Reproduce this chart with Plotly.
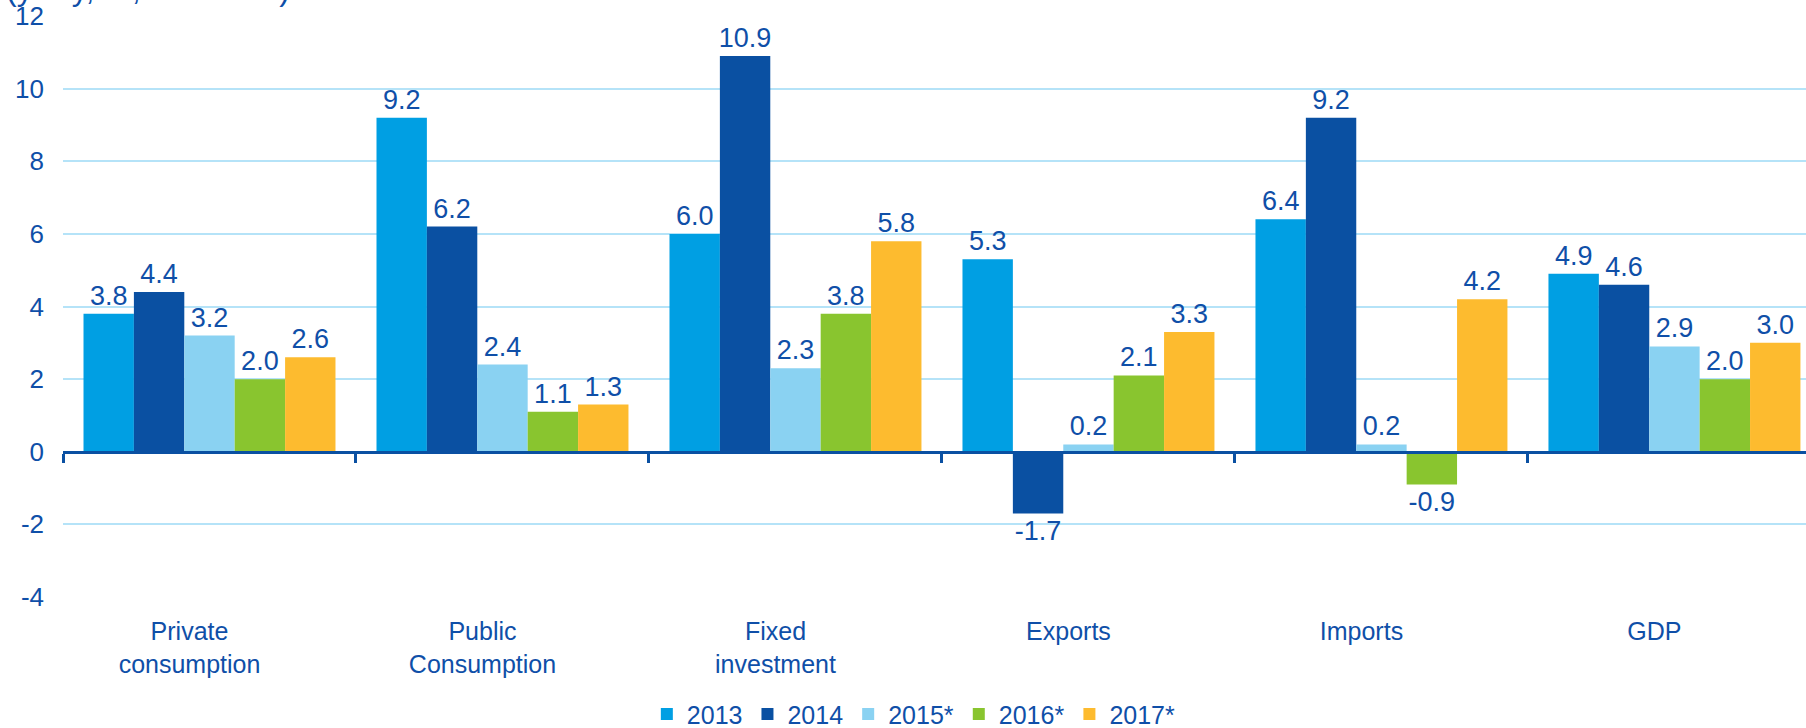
import plotly.graph_objects as go

categories = ["Private<br>consumption", "Public<br>Consumption", "Fixed<br>investment",
              "Exports", "Imports", "GDP"]
series_names = ["2013", "2014", "2015*", "2016*", "2017*"]
v2013 = [3.8, 9.2, 6.0, 5.3, 6.4, 4.9]
v2014 = [4.4, 6.2, 10.9, -1.7, 9.2, 4.6]
v2015 = [3.2, 2.4, 2.3, 0.2, 0.2, 2.9]
v2016 = [2.0, 1.1, 3.8, 2.1, -0.9, 2.0]
v2017 = [2.6, 1.3, 5.8, 3.3, 4.2, 3.0]
y_ticks = [-4, -2, 0, 2, 4, 6, 8, 10, 12]
y_ticktext = ["-4", "-2", "0", "2", "4", "6", "8", "10", "12"]

colors = ["#009fe3", "#0a50a2", "#8ad2f2", "#89c52f", "#fdbb2f"]
TEXT = "#0f4fa8"
FONT = "Liberation Sans"
FS = 24
FS_TICK = 26
FS_LABEL = 27
FS_CAT = 25

fig = go.Figure()
for name, vals, col in zip(series_names, [v2013, v2014, v2015, v2016, v2017], colors):
    fig.add_trace(go.Bar(
        x=categories, y=vals, name=name,
        marker=dict(color=col, line=dict(width=0)),
        texttemplate="%{y:.1f}", textposition="outside",
        textfont=dict(color=TEXT, size=FS_LABEL, family=FONT),
        constraintext="none", cliponaxis=False,
    ))

# helper trace so the zero-line axis (with boundary ticks) is drawn
fig.add_trace(go.Scatter(x=categories, y=[None] * len(categories), xaxis="x2",
                         showlegend=False, hoverinfo="skip", mode="markers"))

fig.update_layout(
    width=1806, height=728,
    margin=dict(l=63, r=0, t=16, b=131),
    paper_bgcolor="white", plot_bgcolor="white",
    barmode="group", bargap=0.14, bargroupgap=0,
    font=dict(family=FONT, size=FS, color=TEXT),
    xaxis=dict(type="category", range=[-0.5, 5.449], showline=False, ticks="",
               showgrid=False, tickfont=dict(size=FS_CAT, color=TEXT),
               ticklabelstandoff=17, ticklabelshift=-20, automargin=False),
    xaxis2=dict(type="category", matches="x", overlaying="x", anchor="free",
                position=0.25, side="bottom", showline=True, linecolor="#0a50a2",
                linewidth=3, ticks="outside", ticklen=9, tickwidth=3,
                tickcolor="#0a50a2", tickson="boundaries", showticklabels=False,
                showgrid=False, zeroline=False, automargin=False),
    yaxis=dict(range=[-4, 12], tickvals=y_ticks, ticktext=y_ticktext, showgrid=True,
               gridcolor="#b5e3f8", gridwidth=2, zeroline=False, showline=False,
               tickfont=dict(size=FS_TICK, color=TEXT), ticklabelstandoff=18,
               automargin=False),
    legend=dict(orientation="h", xref="container", yref="container",
                x=0.506, xanchor="center", y=0.019, yanchor="middle",
                font=dict(size=25, color=TEXT), itemwidth=30),
    annotations=[dict(text="(y-o-y, %, forecasts)", xref="paper", yref="paper",
                      x=-0.034, y=1.012, xanchor="left", yanchor="bottom",
                      showarrow=False, font=dict(size=32, color=TEXT))],
)

fig.write_html("out.html", config={"displayModeBar": False},
               post_script="document.body.style.margin='0';")
